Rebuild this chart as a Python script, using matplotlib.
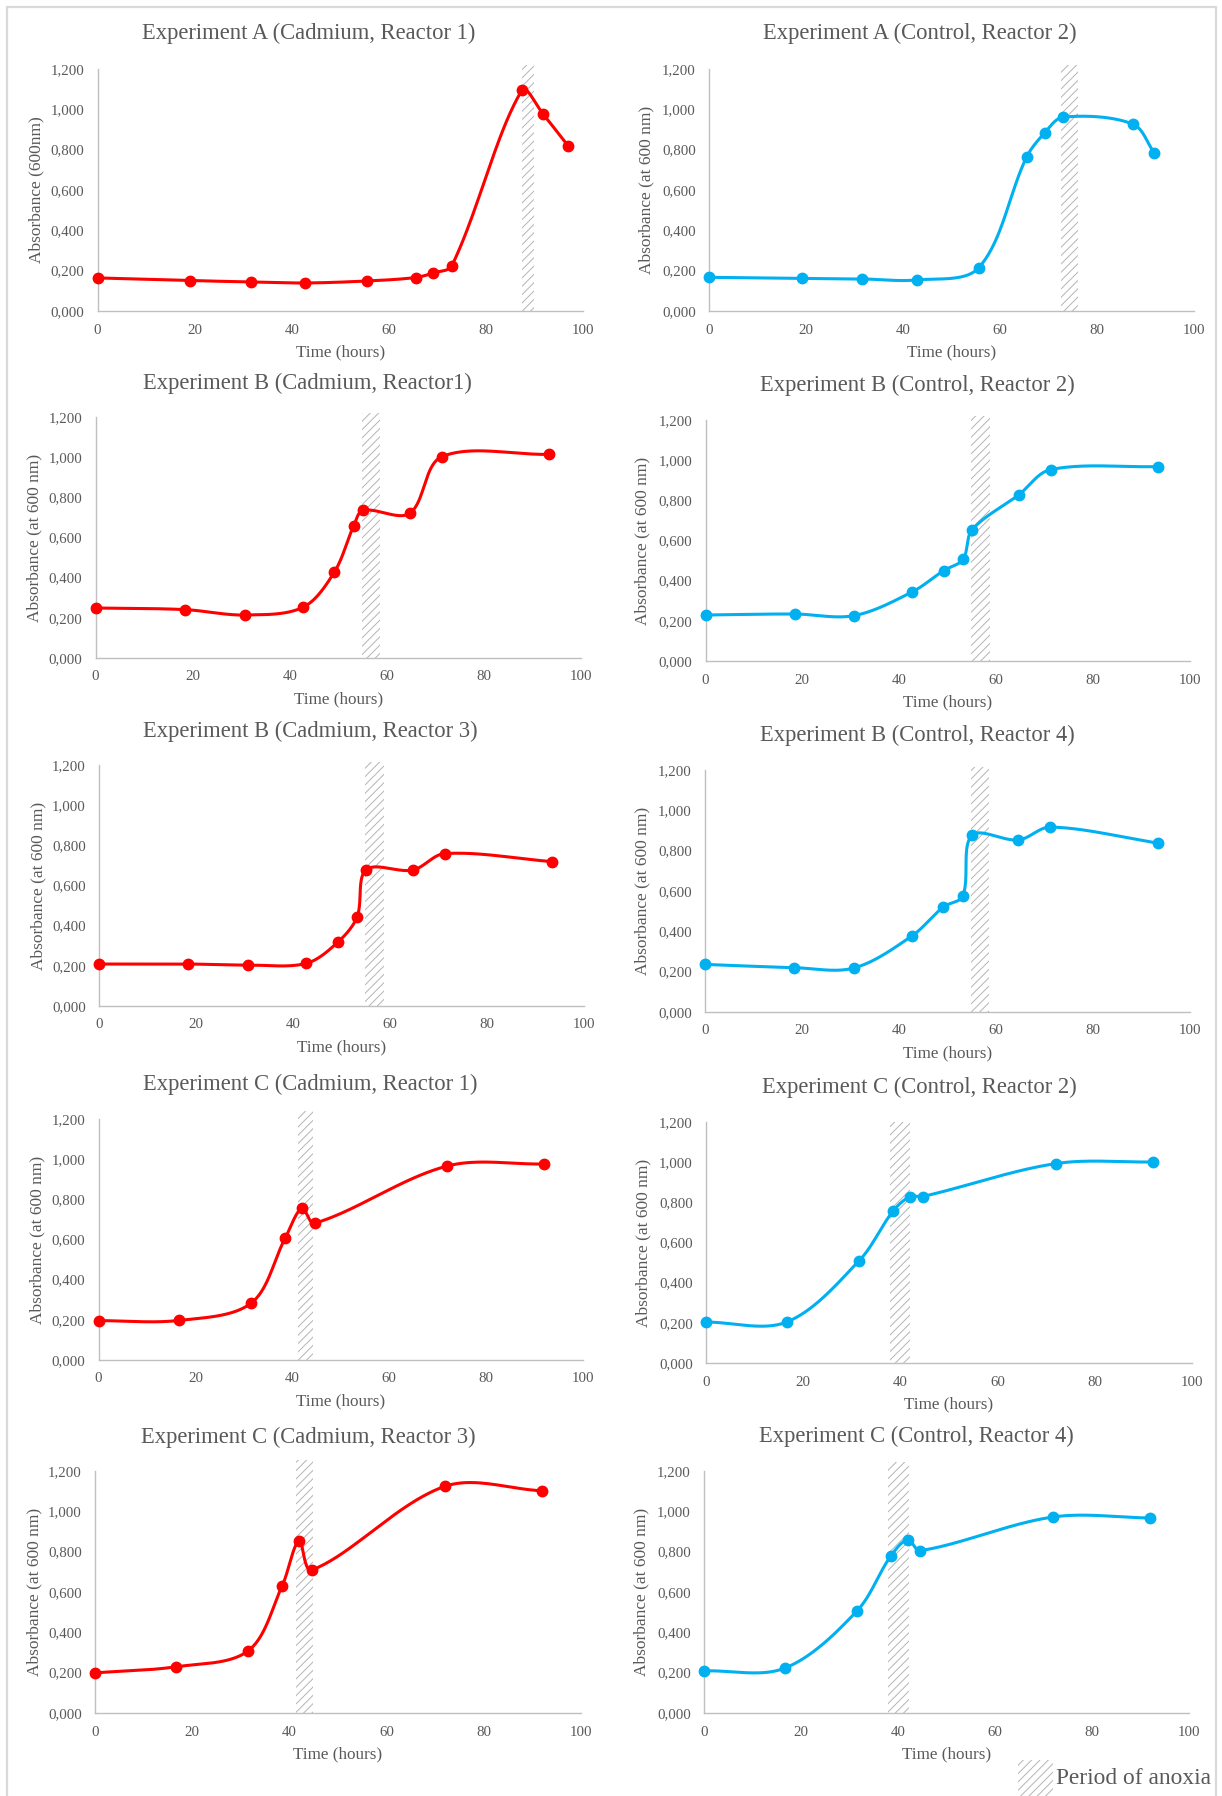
import numpy as np
import matplotlib
matplotlib.use("Agg")
import matplotlib.pyplot as plt
from matplotlib.patches import Rectangle
from matplotlib.ticker import FuncFormatter, MultipleLocator

plt.rcParams['font.family'] = ['Liberation Serif', 'DejaVu Serif']
plt.rcParams['hatch.linewidth'] = 0.7

RED = '#ff0000'
BLUE = '#00b0f0'
TXT = '#595959'
AXC = '#bfbfbf'
HATCH = '#b4b4b4'

# ---- data: time (h), absorbance at 600 nm, anoxia window (h) ----
a1_t = [0, 19.1, 31.6, 42.8, 55.6, 65.5, 69.2, 73.0, 87.4, 91.8, 97.0]
a1_od = [0.164, 0.151, 0.144, 0.139, 0.149, 0.166, 0.189, 0.225, 1.094, 0.975, 0.817]
a1_anox = (87.4, 89.9)

a2_t = [0, 19.1, 31.6, 42.8, 55.6, 65.5, 69.2, 73.0, 87.4, 91.8]
a2_od = [0.167, 0.162, 0.159, 0.154, 0.214, 0.764, 0.883, 0.961, 0.927, 0.784]
a2_anox = (72.6, 76.0)

b_t = [0, 18.4, 30.7, 42.7, 49.2, 53.2, 55.1, 64.7, 71.3, 93.4]
b1_od = [0.249, 0.241, 0.214, 0.252, 0.428, 0.659, 0.735, 0.720, 1.002, 1.014]
b2_od = [0.229, 0.234, 0.226, 0.344, 0.450, 0.506, 0.654, 0.827, 0.953, 0.968]
b3_od = [0.209, 0.209, 0.204, 0.212, 0.317, 0.443, 0.679, 0.677, 0.759, 0.719]
b4_od = [0.236, 0.220, 0.218, 0.377, 0.521, 0.575, 0.876, 0.853, 0.917, 0.838]
b_anox = (54.8, 58.7)

c_t = [0, 16.6, 31.5, 38.5, 42.0, 44.6, 72.0, 91.9]
c1_od = [0.196, 0.197, 0.283, 0.605, 0.756, 0.681, 0.966, 0.976]
c2_od = [0.204, 0.204, 0.509, 0.757, 0.829, 0.829, 0.993, 1.001]
c3_od = [0.199, 0.229, 0.308, 0.630, 0.854, 0.709, 1.124, 1.102]
c4_od = [0.209, 0.222, 0.505, 0.778, 0.859, 0.805, 0.972, 0.967]
c1_anox = (41.2, 44.3)
c2_anox = (37.8, 41.9)
c3_anox = (41.4, 44.8)
c4_anox = (37.9, 42.2)

titles = [
    "Experiment A (Cadmium, Reactor 1)", "Experiment A (Control, Reactor 2)",
    "Experiment B (Cadmium, Reactor1)", "Experiment B (Control, Reactor 2)",
    "Experiment B (Cadmium, Reactor 3)", "Experiment B (Control, Reactor 4)",
    "Experiment C (Cadmium, Reactor 1)", "Experiment C (Control, Reactor 2)",
    "Experiment C (Cadmium, Reactor 3)", "Experiment C (Control, Reactor 4)",
]
ylabels = ["Absorbance (600nm)"] + ["Absorbance (at 600 nm)"] * 9

series = [
    (a1_t, a1_od, a1_anox, RED), (a2_t, a2_od, a2_anox, BLUE),
    (b_t, b1_od, b_anox, RED), (b_t, b2_od, b_anox, BLUE),
    (b_t, b3_od, b_anox, RED), (b_t, b4_od, b_anox, BLUE),
    (c_t, c1_od, c1_anox, RED), (c_t, c2_od, c2_anox, BLUE),
    (c_t, c3_od, c3_anox, RED), (c_t, c4_od, c4_anox, BLUE),
]

# ---- layout in pixels: plot box (x0, x1, ytop, ybottom), title centre, top of hatch band ----
W, H = 1222, 1796
boxes = [
    (97.5, 583, 69, 311), (709, 1194, 69, 311),
    (95.5, 581, 417, 658), (705.5, 1189.5, 420, 661),
    (99, 584, 765, 1006), (705, 1189.5, 770, 1012),
    (98.5, 583, 1119, 1360), (706, 1192, 1122, 1363),
    (95, 581, 1471, 1713), (704, 1189, 1471, 1713),
]
title_pos = [
    (309, 33), (920, 33), (307, 383), (917, 385), (310, 731),
    (917, 735), (310, 1084), (919, 1087), (308, 1437), (916, 1436),
]
band_top = [1.22, 1.22, 1.22, 1.22, 1.215, 1.215, 1.24, 1.2, 1.255, 1.245]


def smooth(x, y, kx, ky, n=40):
    # Bezier smoothing through every point; control arms are scaled by the
    # neighbouring segment lengths (in pixels) so short steps don't overshoot
    px = np.asarray(x, float) * kx
    py = np.asarray(y, float) * ky
    P = np.column_stack([px, py])
    P = np.vstack([P[0], P, P[-1]])
    s = np.linspace(0, 1, n)[:, None]
    out = []
    for i in range(1, len(P) - 2):
        p0, p1, p2, p3 = P[i - 1], P[i], P[i + 1], P[i + 2]
        d01 = np.hypot(*(p1 - p0))
        d12 = np.hypot(*(p2 - p1))
        d23 = np.hypot(*(p3 - p2))
        f1 = d12 / (d01 + d12) if d01 + d12 > 0 else 0
        f2 = d12 / (d12 + d23) if d12 + d23 > 0 else 0
        c1 = p1 + (p2 - p0) * f1 / 3
        c2 = p2 - (p3 - p1) * f2 / 3
        pts = ((1 - s) ** 3 * p1 + 3 * (1 - s) ** 2 * s * c1
               + 3 * (1 - s) * s ** 2 * c2 + s ** 3 * p2)
        out.append(pts)
    pts = np.vstack(out)
    return pts[:, 0] / kx, pts[:, 1] / ky


fig = plt.figure(figsize=(W / 100, H / 100), dpi=100)
fig.patch.set_facecolor('white')

# outer frame of the chart sheet
fig.patches.append(Rectangle((7 / W, -0.01), 1209 / W, 1 - 7 / H + 0.01,
                             transform=fig.transFigure, fill=False,
                             edgecolor='#d9d9d9', linewidth=1.6))

fmt = FuncFormatter(lambda v, p: f"{v:.3f}".replace('.', ','))

for k, ((t, od, anox, col), (x0, x1, yt, yb)) in enumerate(zip(series, boxes)):
    ax = fig.add_axes([x0 / W, 1 - yb / H, (x1 - x0) / W, (yb - yt) / H])
    ax.set_xlim(0, 100)
    ax.set_ylim(0, 1.2)
    ax.xaxis.set_major_locator(MultipleLocator(20))
    ax.yaxis.set_major_locator(MultipleLocator(0.2))
    ax.yaxis.set_major_formatter(fmt)
    for side in ('top', 'right'):
        ax.spines[side].set_visible(False)
    for side in ('left', 'bottom'):
        ax.spines[side].set_color(AXC)
        ax.spines[side].set_linewidth(1.0)
    ax.tick_params(length=0, labelsize=10.7, colors=TXT)
    ax.tick_params(axis='y', pad=9.5)
    ax.tick_params(axis='x', pad=9)

    ax.add_patch(Rectangle((anox[0], 0), anox[1] - anox[0], band_top[k],
                           facecolor='white', edgecolor=HATCH, hatch='////',
                           linewidth=0, clip_on=False, zorder=1))

    w_px = x1 - x0
    h_px = yb - yt
    sx, sy = smooth(t, od, w_px / 100, h_px / 1.2)
    ax.plot(sx, sy, color=col, linewidth=2.2, zorder=3, solid_capstyle='round')
    ax.plot(t, od, 'o', color=col, markersize=7.5, zorder=4, clip_on=False)

    ax.set_ylabel(ylabels[k], fontsize=12.5, color=TXT, va='center')
    ax.yaxis.set_label_coords(-(61 if k % 2 == 0 else 63) / w_px, 0.5)
    ax.set_xlabel("Time (hours)", fontsize=12.3, color=TXT, va='center')
    ax.xaxis.set_label_coords(0.5, -41 / h_px)

    tx, ty = title_pos[k]
    fig.text(tx / W, 1 - ty / H, titles[k], fontsize=16.3, color=TXT,
             ha='center', va='center')

# legend for the anoxia band
fig.patches.append(Rectangle((1018 / W, 1 - 1796 / H), 35 / W, 36 / H,
                             transform=fig.transFigure, facecolor='white',
                             edgecolor=HATCH, hatch='////', linewidth=0))
fig.text(1056 / W, 1 - 1779 / H, "Period of anoxia", fontsize=16.8,
         color=TXT, ha='left', va='center')

fig.savefig("out.png", dpi=100, facecolor='white')
